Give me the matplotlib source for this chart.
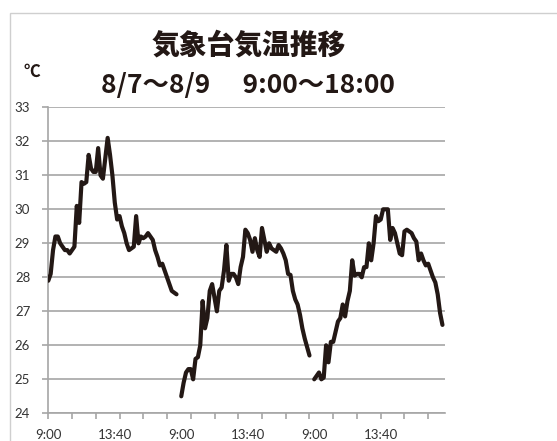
import matplotlib
matplotlib.use('Agg')
import matplotlib.pyplot as plt
from matplotlib.patches import Rectangle
import numpy as np

# 10-minute readings, 9:00 - 18:00, one list per day
DAY1 = [27.9, 28.1, 28.8, 29.2, 29.2, 29.0, 28.9, 28.8, 28.8, 28.7,
        28.8, 28.9, 30.1, 29.6, 30.8, 30.75, 30.8, 31.6, 31.2, 31.1,
        31.1, 31.8, 31.0, 30.9, 31.5, 32.1, 31.6, 31.0, 30.2, 29.7,
        29.8, 29.5, 29.3, 29.0, 28.8, 28.85, 28.9, 29.8, 29.0, 29.2,
        29.15, 29.2, 29.3, 29.2, 29.1, 28.8, 28.6, 28.35, 28.4, 28.2,
        28.0, 27.8, 27.6, 27.55, 27.5]
DAY2 = [24.5, 24.9, 25.2, 25.3, 25.3, 25.0, 25.6, 25.65, 26.0, 27.3,
        26.5, 26.8, 27.6, 27.8, 27.4, 27.0, 27.6, 27.7, 28.2, 28.95,
        27.9, 28.1, 28.1, 28.0, 27.8, 28.3, 28.6, 29.4, 29.3, 29.1,
        28.75, 29.15, 28.8, 28.6, 29.45, 29.1, 28.75, 29.0, 28.85, 28.8,
        28.75, 28.95, 28.85, 28.7, 28.5, 28.1, 28.07, 27.6, 27.35, 27.2,
        26.9, 26.5, 26.2, 25.95, 25.7]
DAY3 = [25.0, 25.1, 25.2, 25.0, 25.05, 26.0, 25.5, 26.1, 26.1, 26.4,
        26.7, 26.8, 27.2, 26.85, 27.3, 27.6, 28.5, 28.05, 28.1, 28.1,
        28.0, 28.3, 28.3, 29.0, 28.5, 29.0, 29.8, 29.65, 29.7, 30.0,
        30.0, 30.0, 29.1, 29.45, 29.3, 29.0, 28.7, 28.65, 29.35, 29.4,
        29.35, 29.3, 29.15, 29.05, 28.5, 28.7, 28.5, 28.35, 28.4, 28.2,
        28.0, 27.85, 27.5, 26.95, 26.6]
X_LABELS = ['9:00', '13:40', '9:00', '13:40', '9:00', '13:40']
Y_TICKS = [24, 25, 26, 27, 28, 29, 30, 31, 32, 33]

LINE = '#231815'
GRID = '#a6a6a6'
TXT = '#333333'

# one blank category after every day, like the spreadsheet rows
temps = []
for day in [DAY1, DAY2, DAY3]:
    temps += day + [np.nan]
temps = np.array(temps)
x = np.arange(len(temps))

fig = plt.figure(figsize=(5.57, 4.41), dpi=100)
ax = fig.add_axes([0.0867, 0.0628, 0.7119, 0.6939])

ax.plot(x, temps, color=LINE, lw=3, solid_joinstyle='round', solid_capstyle='round', zorder=3)

ax.set_xlim(0, len(temps) - 1)
ax.set_ylim(24, 33)
ax.set_yticks(Y_TICKS)
ax.yaxis.grid(True, color=GRID, lw=1.2)
ax.set_axisbelow(True)

ax.xaxis.remove_overlapping_locs = False
ax.set_xticks(range(0, 161, 10))
ax.set_xticklabels([])
ax.set_xticks([i * 28 for i in range(len(X_LABELS))], minor=True)
ax.set_xticklabels(X_LABELS, minor=True)

for s in ['top', 'right']:
    ax.spines[s].set_visible(False)
for s in ['left', 'bottom']:
    ax.spines[s].set_color(GRID)
    ax.spines[s].set_linewidth(1.2)

ax.tick_params(axis='x', which='major', length=4, width=1.2, color=GRID)
ax.tick_params(axis='x', which='minor', length=0, pad=11, labelsize=9.5, labelcolor=TXT)
ax.tick_params(axis='y', length=4, width=1.2, color=GRID, pad=9, labelsize=9.5, labelcolor=TXT)
for lab in ax.get_xticklabels(minor=True) + ax.get_yticklabels():
    lab.set_family(['Lato', 'DejaVu Sans'])

fig.text(0.447, 0.898, '気象台気温推移', ha='center', va='center', fontsize=20,
         fontweight='heavy', color=LINE, family=['Noto Sans CJK JP', 'DejaVu Sans'])
fig.text(0.445, 0.807, '8/7～8/9　 9:00～18:00', ha='center', va='center', fontsize=19,
         fontweight='semibold', color=LINE, family=['Noto Sans CJK JP', 'DejaVu Sans'])
fig.text(0.0575, 0.837, '℃', ha='center', va='center', fontsize=12,
         fontweight='bold', color=LINE, family=['Noto Sans CJK JP', 'DejaVu Sans'])

# light frame of the chart object, cropped at right and bottom
fig.patches.append(Rectangle((9.5 / 557, -0.1), 1.2, 1.1 - 12.7 / 441, transform=fig.transFigure,
                             fill=False, edgecolor='#cfcfcf', lw=1))

plt.savefig('out.png', dpi=100)
